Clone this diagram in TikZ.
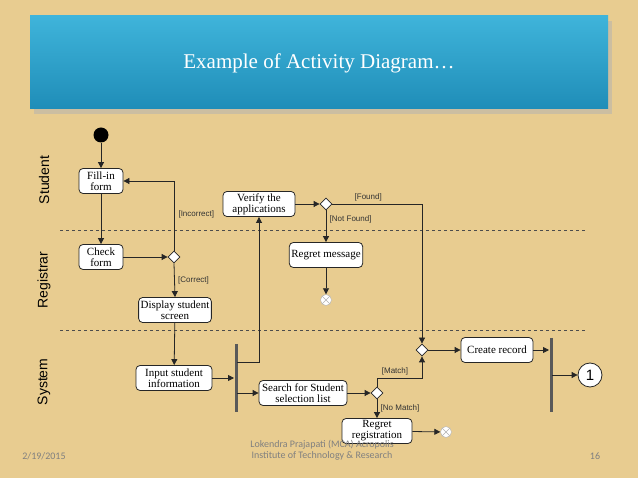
\documentclass[tikz,border=0pt]{standalone}
\usepackage{fontspec}
\setmainfont{Liberation Serif}
\setsansfont{Liberation Sans}
\setmonofont{Carlito}
\usetikzlibrary{shapes.geometric,arrows.meta}
\definecolor{parch}{HTML}{E8CC90}
\definecolor{ttop}{HTML}{3FB4DA}
\definecolor{tbot}{HTML}{1F8DB8}
\tikzset{
 act/.style={draw=black!85,thick,rounded corners=4pt,fill=white,align=center,font=\fontsize{11}{11}\selectfont,inner sep=2pt,minimum height=25pt},
 dec/.style={draw=black!85,thick,diamond,fill=white,minimum size=12pt,inner sep=0pt},
 flow/.style={thick,black!85,-{Triangle[length=6pt,width=6pt]}},
 grd/.style={font=\sffamily\fontsize{8}{8}\selectfont,text=black!80},
 bar/.style={line width=3pt,gray!70!black},
 fin/.style={circle,draw=gray!60,fill=white,minimum size=11pt,inner sep=0pt},
 lane/.style={font=\sffamily\fontsize{14}{14}\selectfont,rotate=90},
}
\begin{document}
\begin{tikzpicture}[x=1pt,y=-1pt]
\fill[parch] (0,0) rectangle (638,478);
\useasboundingbox (0,0) rectangle (638,478);
\fill[black!30,opacity=.5] (34,21) rectangle (612,114);
\shade[top color=ttop,bottom color=tbot] (30,16) rectangle (608,109);
\node[text=white,font=\fontsize{21}{21}\selectfont] (title) at (319,63) {Example of Activity Diagram…};
\node[lane] (ls) at (44,180) {Student};
\node[lane] (lr) at (44,280) {Registrar};
\node[lane] (ly) at (44,382) {System};
\draw[dashed,gray!60!black,thick] (60,230) -- (585,230);
\draw[dashed,gray!60!black,thick] (60,330) -- (585,330);
\node[circle,fill=black,minimum size=15pt,inner sep=0pt] (start) at (101,135) {};
\node[act,minimum width=44pt] (fill) at (101,181) {Fill-in\\form};
\node[act,minimum width=44pt] (check) at (101,257) {Check\\form};
\node[dec] (d1) at (174,257) {};
\node[act,minimum width=72pt] (disp) at (175,310) {Display student\\screen};
\node[act,minimum width=76pt] (input) at (174,378) {Input student\\information};
\draw[bar] (236,344) -- (236,412);
\node[act,minimum width=72pt] (verify) at (259,204) {Verify the\\applications};
\node[dec] (d2) at (326,204) {};
\node[act,minimum width=72pt] (regm) at (326,255) {Regret message};
\node[fin] (f1) at (326,300) {};
\draw[gray!60] (f1.north west)--(f1.south east) (f1.north east)--(f1.south west);
\node[dec] (d3) at (422,350) {};
\node[act,minimum width=72pt] (create) at (497,350) {Create record};
\draw[bar] (551,338) -- (551,412);
\node[circle,draw=black!85,thick,fill=white,minimum size=24pt,inner sep=0pt,font=\sffamily\fontsize{15}{15}\selectfont] (one) at (590,375) {1};
\node[act,minimum width=88pt] (search) at (303,393) {Search for Student\\selection list};
\node[dec] (d4) at (377,393) {};
\node[act,minimum width=70pt] (regr) at (377,431) {Regret\\registration};
\node[fin] (f2) at (446,432) {};
\draw[gray!60] (f2.north west)--(f2.south east) (f2.north east)--(f2.south west);
% flows
\draw[flow] (start) -- (fill);
\draw[flow] (fill) -- (check);
\draw[flow] (check) -- (d1);
\draw[flow] (d1.north) |- (fill.east);
\node[grd,anchor=west] (inc) at (175,214) {[Incorrect]};
\draw[flow] (d1.south) -- (disp.north) node[grd,midway,right] {[Correct]};
\draw[flow] (disp) -- (input);
\draw[flow] (input.east) -- (234,378);
\draw[flow] (237,362) -| (verify.south);
\draw[flow] (237,393) -- (search.west);
\draw[flow] (verify) -- (d2);
\draw[flow] (d2.east) -| (d3.north) node[grd,pos=0.2,above=-1pt] {[Found]};
\draw[flow] (d2.south) -- (regm.north) node[grd,pos=0.3,right] {[Not Found]};
\draw[flow] (regm) -- (f1);
\draw[flow] (search) -- (d4);
\draw[flow] (d4.north) |- (422,378) node[grd,pos=0.7,above=-1pt] {[Match]} -- (d3.south);
\draw[flow] (d4.south) -- (regr.north) node[grd,midway,right] {[No Match]};
\draw[flow] (regr) -- (f2);
\draw[flow] (d3) -- (create);
\draw[flow] (create.east) -- (549,350);
\draw[flow] (552,375) -- (one.west);
% footer
\node[font=\ttfamily\fontsize{10}{10}\selectfont,text=gray] (date) at (44,456) {2/19/2015};
\node[font=\ttfamily\fontsize{10}{11}\selectfont,text=gray,align=center] (foot) at (322,450) {Lokendra Prajapati (MCA) Acropolis\\Institute of Technology \& Research};
\node[font=\ttfamily\fontsize{10}{10}\selectfont,text=gray] (pg) at (595,456) {16};
\end{tikzpicture}
\end{document}
